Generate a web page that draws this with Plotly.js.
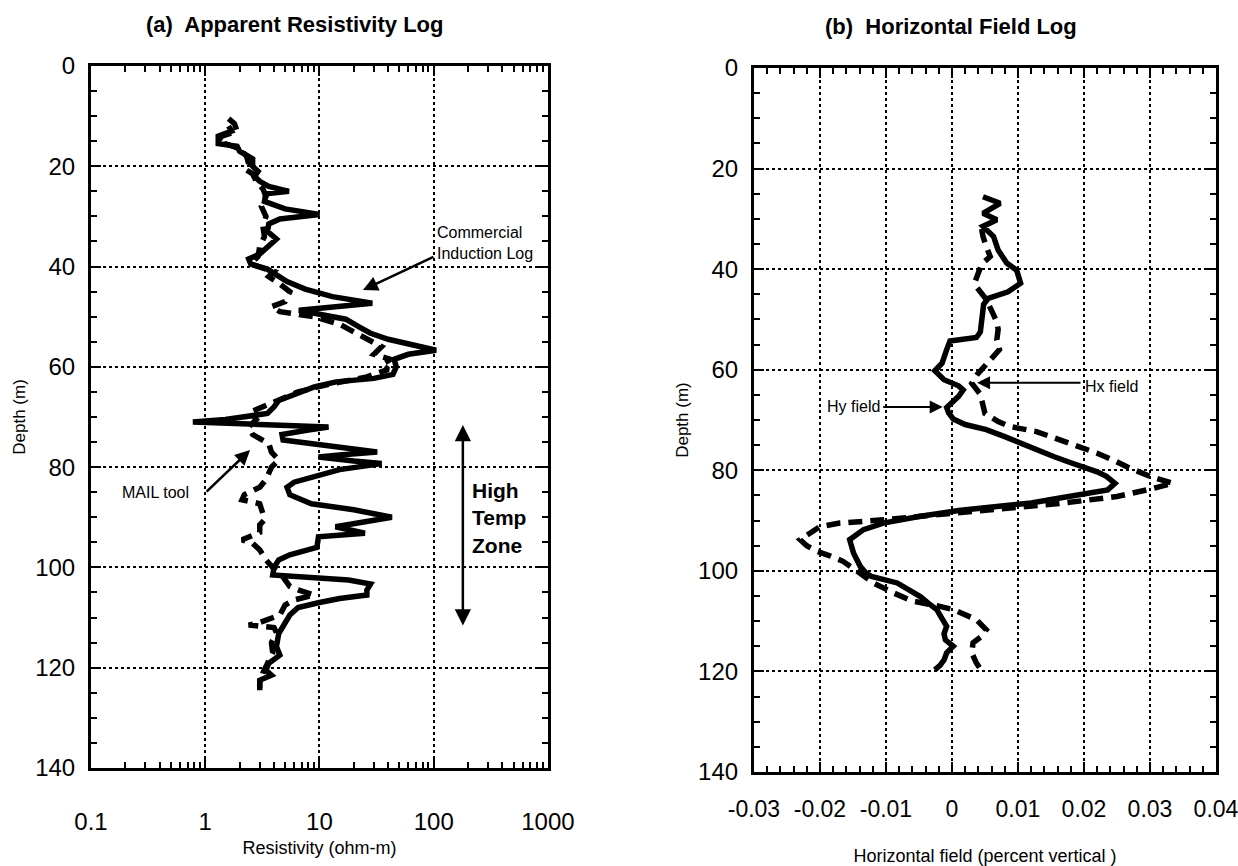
<!DOCTYPE html>
<html>
<head>
<meta charset="utf-8">
<script src="https://cdn.plot.ly/plotly-3.0.1.min.js"></script>
<style>html,body{margin:0;padding:0;background:#fff;}#chart{width:1238px;height:866px;}</style>
</head>
<body>
<div id="chart"></div>
<script>
// ---- (a) Apparent resistivity log ----
const inductionDepth = [12,13,14,15.5,16,17,18.5,20,21,22,23,24,25,25.5,27,28.5,29.6,30.5,31.5,33,34.5,36,37.5,38.5,39.5,40.5,42,43,44.5,46,47.3,48.2,48.7,49.5,50.5,52,53.3,54.5,55.5,56.7,57.5,58.5,60,61.5,62.3,63,64,65.3,66.7,68,69.3,70.5,71,71.5,72,72.6,73.5,74.6,76,77,77.6,78,78.8,79.3,80.5,82,83,84,85.5,87.3,88.5,90,91.2,91.9,93.2,93.9,96,97.5,98.5,100,101.5,102.5,103.3,104.5,105.5,106.2,107,108,109.5,111.2,113.2,115.8,117.5,119.1,120.5,121.5,122.5,124.5];
const inductionRes = [1.6,1.7,1.3,1.3,1.9,2.0,2.6,2.6,2.9,2.7,3.0,3.6,5.4,3.4,3.3,5.0,10,4.5,3.6,3.5,4.2,3.6,3.0,2.4,2.5,3.5,4.5,5.2,7.5,13,29,9,6.6,10,17,22,28,40,60,105,60,45,47,44,30,14,9,6.5,4.4,4.0,3.5,1.5,0.78,3,12,8,4.7,4.8,15,32,15,9.8,20,35,15,8.7,6,5.2,5.5,8.5,20,43,20,13.8,25,9.8,9.5,5.5,4.4,4.0,3.9,18,28,26,26,15,10,6.5,5.5,5,4.4,4.2,4.5,3.6,3.4,3.8,3.0,3.0];

const mailDepth = [10.5,11.5,13,14,15,16.5,18,19.5,20.5,21.5,23,24.5,26,28,30,32,34,36,38,39.5,41,42,43.5,45,47,48,49,50,51.5,53,54.5,56,57.5,58.5,59.5,60.5,62,63.5,65,66.5,68,69,70.5,72,73.5,75.3,77,78.6,80,81.3,82.5,84,85.5,86.5,87.3,89.3,90.5,91.5,93,94.5,95.2,96.5,98.5,100,101,102.5,103.8,104.5,105.5,106.5,107.5,109.5,111,111.5,112,113,115,117,119,121,123,124];
const mailRes = [1.6,1.8,1.9,1.4,1.3,2.0,2.3,2.4,2.2,2.6,2.8,3.2,3.4,3.1,3.4,3.2,3.3,3.0,2.9,2.5,4.0,3.6,4.5,5.5,5.0,3.8,4.5,9,15,20,27,35,30,42,35,40,26,12,6.5,4.5,3.2,2.5,2.8,2.4,2.6,3.6,3.8,4.4,3.8,3.6,3.4,3.0,2.2,2.1,3.0,3.2,3.3,3.0,3.0,2.1,2.6,3.0,3.4,3.9,4.5,5.0,5.5,6.5,9,6,5,4.5,3.0,2.4,4.0,4.2,3.8,3.9,3.5,3.2,3.0,3.0];

// ---- (b) Horizontal field log ----
const hyDepth = [25.6,26.9,28.9,30.2,31.5,33.5,36.2,38.8,40.2,42.8,44.5,45.8,47,49.4,52.5,53.6,54.3,56,58.7,60.2,62,63.2,64,65.3,66.2,67.5,68.6,69.8,70.9,71.9,73.3,74.6,76,77.3,78.5,79.3,80.3,81.2,82.6,83.9,84.8,85.6,86.5,87.2,88,89.2,90.5,91.8,93.8,96.5,99.1,100.5,101.1,102.4,103.7,105.1,106.5,107.7,109.5,111,112.5,113.7,115,116.3,117.7,118.8,119.7];
const hyField = [0.0047,0.0073,0.0047,0.0068,0.0047,0.0063,0.0070,0.0083,0.0098,0.0104,0.0085,0.0055,0.0048,0.0045,0.0043,0.0037,-0.0003,-0.0008,-0.0015,-0.0026,-0.0012,0.0010,0.0017,0.0010,0.0002,-0.0008,-0.0005,0.0002,0.0020,0.0052,0.0080,0.0103,0.0130,0.0155,0.0180,0.0199,0.0220,0.0234,0.0247,0.0236,0.0200,0.0159,0.0120,0.0058,0.0010,-0.0050,-0.0104,-0.0134,-0.0155,-0.0149,-0.0139,-0.0130,-0.0122,-0.0083,-0.0065,-0.0048,-0.0035,-0.0023,-0.0015,-0.0008,-0.0012,-0.0010,0.0002,-0.0008,-0.0012,-0.0018,-0.0026];

const hxDepth = [32,33.5,35.5,37.5,39,40.8,42.5,43.5,46,48.8,50.5,52,54,56,58,59.4,61,62.7,64.7,66.5,68.7,70.3,71.3,72.3,73.3,74.6,76.6,78,79.3,81.2,82.6,83.9,85.2,86.5,87.5,88.5,89.9,90.5,91.2,92.5,93.8,95,96.1,97,98.1,100,102.4,104.4,106,107,107.7,109.7,111.7,113,114.3,116.3,118.3,120.3];
const hxField = [0.0045,0.0047,0.0052,0.0058,0.0045,0.0040,0.0035,0.0037,0.0052,0.0062,0.0068,0.0070,0.0068,0.0072,0.0058,0.0048,0.0038,0.0030,0.0042,0.0046,0.0050,0.0070,0.0088,0.0128,0.0150,0.0179,0.0220,0.0245,0.0265,0.0300,0.0335,0.0295,0.0250,0.0170,0.0080,0.0005,-0.0109,-0.0170,-0.0200,-0.0215,-0.0230,-0.0220,-0.0205,-0.0185,-0.0165,-0.0144,-0.0119,-0.0088,-0.0060,-0.0020,0.0002,0.0037,0.0052,0.0045,0.0032,0.0030,0.0037,0.0047];

const depthTicks = [0,20,40,60,80,100,120,140];
const resTickVals = [0.1,1,10,100,1000];
const resTickText = ['0.1','1','10','100','1000'];
const fieldTickVals = [-0.03,-0.02,-0.01,0,0.01,0.02,0.03,0.04];
const fieldTickText = ['-0.03','-0.02','-0.01','0','0.01','0.02','0.03','0.04'];

const FONT = 'Liberation Sans, Arial, Helvetica, sans-serif';
const black = '#000';

const resMinor = [];
[0.1,1,10,100].forEach(d => { for (let k = 2; k <= 9; k++) resMinor.push(d * k); });

const traces = [
  {x: inductionRes, y: inductionDepth, xaxis: 'x', yaxis: 'y', mode: 'lines', name: 'Commercial Induction Log',
   line: {color: black, width: 5.5}},
  {x: mailRes, y: mailDepth, xaxis: 'x', yaxis: 'y', mode: 'lines', name: 'MAIL tool',
   line: {color: black, width: 5.5, dash: '14px,8px'}},
  {x: hyField, y: hyDepth, xaxis: 'x2', yaxis: 'y2', mode: 'lines', name: 'Hy field',
   line: {color: black, width: 5.5}},
  {x: hxField, y: hxDepth, xaxis: 'x2', yaxis: 'y2', mode: 'lines', name: 'Hx field',
   line: {color: black, width: 5.5, dash: '14px,8px'}}
];

const commonAxis = {
  showline: true, linecolor: black, linewidth: 3, mirror: 'ticks',
  ticks: 'inside', ticklen: 10, tickwidth: 2, tickcolor: black,
  showgrid: true, gridcolor: black, griddash: 'dot', gridwidth: 2,
  zeroline: false, automargin: false, ticklabeloverflow: 'allow',
  tickfont: {family: FONT, size: 24, color: black}
};

function yAxis(domain, titleStandoff) {
  return Object.assign({}, commonAxis, {
    domain: domain, range: [140, 0], tickmode: 'array', tickvals: depthTicks,
    ticklabelstandoff: 8,
    minor: {ticks: 'inside', ticklen: 6, tickwidth: 2, tickcolor: black, dtick: 5, showgrid: false},
    title: {text: 'Depth (m)', font: {family: FONT, size: 17, color: black}, standoff: titleStandoff}
  });
}

const layout = {
  width: 1238, height: 866,
  margin: {l: 0, r: 0, t: 0, b: 0},
  paper_bgcolor: '#fff', plot_bgcolor: '#fff',
  showlegend: false,
  xaxis: Object.assign({}, commonAxis, {
    domain: [0.0735, 0.4426], type: 'log', range: [-1.0000001, 3.0000001], anchor: 'y',
    tickmode: 'array', tickvals: resTickVals, ticktext: resTickText,
    ticklabelstandoff: 30,
    minor: {ticks: 'inside', ticklen: 6, tickwidth: 2, tickcolor: black, tickmode: 'array', tickvals: resMinor, showgrid: false},
    title: {text: 'Resistivity (ohm-m)', font: {family: FONT, size: 18, color: black}, standoff: 8}
  }),
  yaxis: Object.assign(yAxis([0.1132, 0.9238], 6), {anchor: 'x'}),
  xaxis2: Object.assign({}, commonAxis, {
    domain: [0.6090, 0.9822], range: [-0.0300001, 0.0400001], anchor: 'y2',
    tickmode: 'array', tickvals: fieldTickVals, ticktext: fieldTickText,
    ticklabelstandoff: 14, tickfont: {family: FONT, size: 23, color: black},
    minor: {ticks: 'inside', ticklen: 6, tickwidth: 2, tickcolor: black, dtick: 0.002, showgrid: false},
    title: {text: 'Horizontal field (percent vertical )', font: {family: FONT, size: 18, color: black}, standoff: 32}
  }),
  yaxis2: Object.assign(yAxis([0.1085, 0.9215], 6), {anchor: 'x2'}),
  annotations: [
    {xref: 'paper', yref: 'paper', x: 294/1238, y: 1 - 25/866, xanchor: 'center', yanchor: 'middle',
     text: '<b>(a)  Apparent Resistivity Log</b>', showarrow: false, font: {family: FONT, size: 22, color: black}},
    {xref: 'paper', yref: 'paper', x: 951/1238, y: 1 - 27/866, xanchor: 'center', yanchor: 'middle',
     text: '<b>(b)  Horizontal Field Log</b>', showarrow: false, font: {family: FONT, size: 22, color: black}},
    // Commercial induction log label + arrow
    {xref: 'x', yref: 'y', x: Math.log10(103), y: 35.3, xanchor: 'left', align: 'left',
     text: 'Commercial<br>Induction Log', showarrow: false, font: {family: FONT, size: 16, color: black}},
    {xref: 'x', yref: 'y', x: Math.log10(24), y: 44.7, text: '', showarrow: true,
     ax: 72, ay: -34, arrowhead: 2, arrowsize: 1.2, arrowwidth: 2.5, arrowcolor: black},
    // MAIL tool label + arrow
    {xref: 'x', yref: 'y', x: Math.log10(0.37), y: 85, text: 'MAIL tool', showarrow: false,
     font: {family: FONT, size: 16, color: black}},
    {xref: 'x', yref: 'y', x: Math.log10(2.47), y: 76.6, text: '', showarrow: true,
     ax: -45, ay: 43, arrowhead: 2, arrowsize: 1.2, arrowwidth: 2.5, arrowcolor: black},
    // High temp zone
    {xref: 'x', yref: 'y', x: Math.log10(208), y: 90.1, xanchor: 'left', align: 'left',
     text: '<b>High<br>Temp<br>Zone</b>', showarrow: false, font: {family: FONT, size: 21, color: black}},
    {xref: 'x', yref: 'y', x: Math.log10(180), y: 71.6, axref: 'x', ayref: 'y', ax: Math.log10(180), ay: 111.9,
     text: '', showarrow: true, arrowside: 'end+start', arrowhead: 2, arrowsize: 1.3, arrowwidth: 2.5, arrowcolor: black},
    // Hx field
    {xref: 'x2', yref: 'y2', x: 0.0198, y: 63.4, xanchor: 'left', text: 'Hx field', showarrow: false,
     font: {family: FONT, size: 16, color: black}},
    {xref: 'x2', yref: 'y2', x: 0.0038, y: 62.6, text: '', showarrow: true,
     ax: 105, ay: 0, arrowhead: 2, arrowsize: 1.3, arrowwidth: 2, arrowcolor: black},
    // Hy field
    {xref: 'x2', yref: 'y2', x: -0.0106, y: 67.4, xanchor: 'right', text: 'Hy field', showarrow: false,
     font: {family: FONT, size: 16, color: black}},
    {xref: 'x2', yref: 'y2', x: -0.0014, y: 67.4, text: '', showarrow: true,
     ax: -61, ay: 0, arrowhead: 2, arrowsize: 1.3, arrowwidth: 2, arrowcolor: black}
  ]
};

Plotly.newPlot('chart', traces, layout, {displayModeBar: false, staticPlot: true});
</script>
</body>
</html>
